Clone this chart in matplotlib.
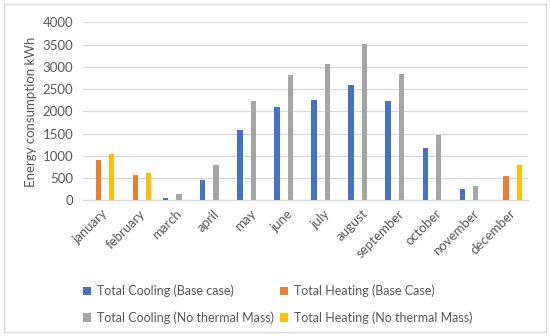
import matplotlib
matplotlib.use("Agg")
import matplotlib.pyplot as plt
import numpy as np
from matplotlib.patches import Rectangle

months = ["january", "february", "march", "april", "may", "june", "july",
          "august", "september", "october", "november", "december"]
cooling_base = [0, 0, 45, 463, 1584, 2094, 2252, 2589, 2243, 1180, 247, 0]
heating_base = [915, 580, 0, 0, 0, 0, 0, 0, 0, 0, 0, 560]
cooling_nomass = [0, 0, 150, 800, 2236, 2820, 3061, 3517, 2845, 1464, 321, 0]
heating_nomass = [1042, 618, 0, 0, 0, 0, 0, 0, 0, 0, 0, 798]
series_names = ["Total Cooling (Base case)", "Total Heating (Base Case)",
                "Total Cooling (No thermal Mass)", "Total Heating (No thermal Mass)"]
colors = ["#4472C4", "#ED7D31", "#A5A5A5", "#FFC000"]
yticks = [0, 500, 1000, 1500, 2000, 2500, 3000, 3500, 4000]

plt.rcParams['font.family'] = ['Lato', 'DejaVu Sans']
fig = plt.figure(figsize=(5.5, 3.36), dpi=100)
ax = fig.add_axes([0.151, 0.4033, 0.809, 0.5303])

x = np.arange(len(months))
slot = 0.181
bw = 0.145
data = [cooling_base, heating_base, cooling_nomass, heating_nomass]
handles = []
for i, (vals, c, name) in enumerate(zip(data, colors, series_names)):
    h = ax.bar(x + (i - 1.5) * slot, vals, width=bw, color=c, label=name, zorder=3)
    handles.append(h)

ax.set_xlim(-0.5, len(months) - 0.5)
ax.set_ylim(0, 4000)
ax.set_yticks(yticks)
ax.set_yticklabels([str(t) for t in yticks])
ax.grid(axis='y', color='#D9D9D9', linewidth=0.9, zorder=0)
for s in ['top', 'right', 'left']:
    ax.spines[s].set_visible(False)
ax.spines['bottom'].set_color('#D9D9D9')
ax.spines['bottom'].set_linewidth(0.9)
ax.tick_params(axis='both', length=0, colors='#595959', labelsize=9.5)
ax.tick_params(axis='y', pad=7)
ax.set_xticks(x)
ax.set_xticklabels(months, rotation=45, ha='right', va='top', rotation_mode='anchor')
ax.tick_params(axis='x', pad=5)
ax.set_ylabel("Energy consumption kWh", color='#595959', fontsize=9.5, labelpad=4)

order = [0, 2, 1, 3]
fig.legend(handles=[handles[i] for i in order], labels=[series_names[i] for i in order],
           ncol=2, loc='upper left',
           bbox_to_anchor=(0.142, 0.168), frameon=False, fontsize=9,
           labelcolor='#595959', handlelength=0.65, handleheight=0.65,
           handletextpad=0.45, columnspacing=0.5, labelspacing=1.15,
           borderaxespad=0)

fig.patches.append(Rectangle((4/550, 4/336), 542/550, 328/336, transform=fig.transFigure,
                             fill=False, edgecolor='#D9D9D9', linewidth=1))

fig.savefig("out.png", dpi=100)
